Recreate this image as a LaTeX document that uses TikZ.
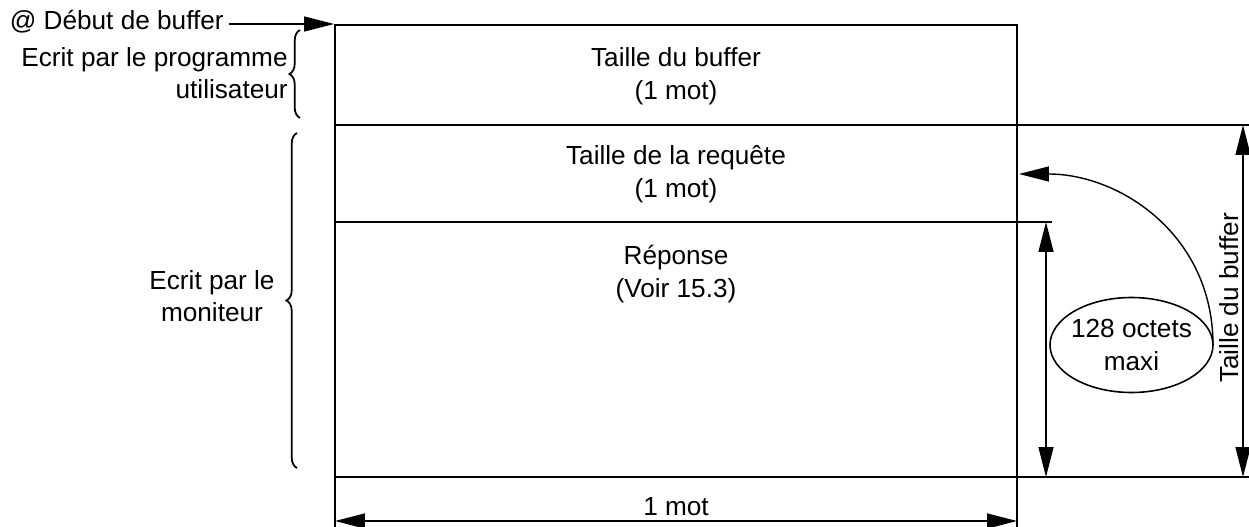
\documentclass[tikz,border=0pt]{standalone}
\usepackage{fontspec}
\setmainfont{Liberation Sans}
\usetikzlibrary{arrows.meta,shapes.geometric,decorations.pathreplacing}
\begin{document}
\begin{tikzpicture}[x=0.02cm,y=-0.02cm,
  txt/.style={font=\fontsize{14.9}{18.6}\selectfont, inner sep=0pt, align=center},
  boxline/.style={line width=1.5pt},
  thin/.style={line width=0.6pt},
  dimarrow/.style={line width=0.8pt, {Triangle[length=17pt,width=8.5pt]}-{Triangle[length=17pt,width=8.5pt]}},
  onearrow/.style={line width=0.8pt, -{Triangle[length=17pt,width=8.5pt]}},
  bracestyle/.style={line width=1pt, decorate, decoration={brace, amplitude=6pt}}]
\useasboundingbox (0,0) rectangle (1249,527);
% main boxes
\draw[boxline] (335,25) rectangle (1017,477);
\draw[boxline] (335,125) -- (1017,125);
\draw[boxline] (335,222) -- (1017,222);
\coordinate (tl) at (334,24);
\node[txt] (t1) at (676,76) {Taille du buffer\\(1 mot)};
\node[txt] (t2) at (676,174) {Taille de la requête\\(1 mot)};
\node[txt] (t3) at (676,274) {Réponse\\(Voir 15.3)};
% top-left arrow
\node[txt, anchor=east] (deb) at (224,22) {@ Début de buffer};
\coordinate (ds) at (229,24);
\draw[onearrow] (ds) -- (tl);
% braces
\draw[bracestyle] (300,118) -- (300,30);
\node[txt, align=right, anchor=east] (ep) at (288,73) {Ecrit par le programme\\utilisateur};
\draw[bracestyle] (297,468) -- (297,133);
\node[txt] (em) at (212,296) {Ecrit par le\\moniteur};
% right extension lines
\draw[thin] (1017,125) -- (1249,125);
\draw[thin] (1017,477) -- (1249,477);
\draw[thin] (1017,222) -- (1052,222);
\coordinate (ra) at (1243,125);
\coordinate (rb) at (1243,477);
\draw[dimarrow] (ra) -- (rb);
\node[txt, rotate=90] (tb) at (1229,298) {Taille du buffer};
\coordinate (ia) at (1046,222);
\coordinate (ib) at (1046,477);
\draw[dimarrow] (ia) -- (ib);
% ellipse
\node[txt] (el) at (1131.5,345) {128 octets\\maxi};
\draw[line width=0.9pt] (el.center) ellipse [x radius=81.5, y radius=47.5];
\coordinate (ee) at (1213,345);
\coordinate (ct) at (1019,174);
\draw[onearrow] (ee) .. controls (1213,235) and (1120,174) .. (ct);
% bottom dimension
\draw[thin] (335,477) -- (335,527);
\draw[thin] (1017,477) -- (1017,527);
\coordinate (ba) at (335,521);
\coordinate (bb) at (1017,521);
\draw[dimarrow] (ba) -- (bb);
\node[txt] (mot) at (676,507) {1 mot};
\end{tikzpicture}
\end{document}
